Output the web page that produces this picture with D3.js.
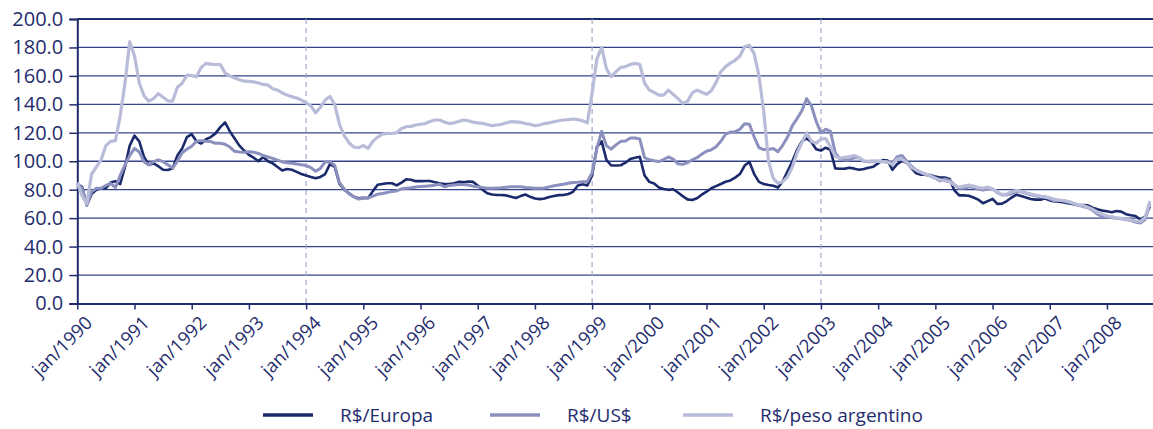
<!DOCTYPE html>
<html>
<head>
<meta charset="utf-8">
<script src="https://cdn.jsdelivr.net/npm/d3@7"></script>
<style>
  html, body { margin: 0; padding: 0; background: #fff; }
  svg { display: block; font-family: "Open Sans", "Noto Sans", sans-serif; }
</style>
</head>
<body>
<svg id="chart" width="1153" height="429"></svg>
<script>
// monthly index values, jan/1990 .. oct/2008
var startYear = 1990;

var europa = [
  84, 82, 69, 77, 80, 81, 81, 85, 86, 84,
  96, 111, 118, 114, 103, 97.5, 98.5, 96.5, 94, 93.8,
  95, 104, 109, 117, 119, 114, 112.5, 115.5, 117, 119.6,
  124, 127.3, 121, 116, 111, 107.5, 104.5, 102.5, 100, 103,
  100, 98.5, 96, 93.5, 94.5, 94, 92.5, 91, 90, 89,
  88, 89, 91, 98, 96, 84, 80, 77.5, 75, 74,
  74.4, 74, 79, 83.5, 84, 84.5, 84.5, 83, 85, 87.3,
  87, 86, 86, 86.1, 86.1, 85.2, 84.5, 84, 84, 84.5,
  85.5, 85.3, 85.8, 85.5, 83, 80, 77.5, 76.6, 76.3, 76.3,
  76, 75.1, 74.2, 75.5, 76.6, 75, 73.8, 73.4, 73.8, 74.8,
  75.5, 76.2, 76.3, 77, 78.5, 83, 83.8, 83, 90, 110,
  114, 101, 97, 97, 97.2, 99, 101.6, 102.5, 103.2, 90,
  85.5, 84.3, 81.5, 80.5, 79.9, 80.3, 78, 75.5, 73.2, 72.7,
  74, 76.5, 78.6, 81, 82.5, 84, 85.6, 86.5, 88.5, 91,
  97, 99.5, 91, 85.5, 84, 83.3, 82.8, 81.5, 86, 93,
  100, 108, 114, 116, 113.5, 108.5, 107.5, 109.5, 108, 95,
  94.7, 94.8, 95.5, 94.8, 94, 94.5, 95.5, 96.2, 98.5, 100.9,
  100.5, 94, 98, 100.2, 99, 95, 91.5, 90.5, 90.5, 90.3,
  89.2, 88.5, 88.5, 87.5, 79.5, 76, 76, 75.8, 74.5, 73,
  70.5, 72, 73.5, 70, 70.2, 72, 74.5, 76.5, 75.5, 74.5,
  73.5, 73, 73, 73.8, 72.5, 71.8, 71.5, 71, 70.4, 69.8,
  69, 69.3, 69, 67.3, 66.2, 65.3, 64.8, 64.1, 65, 64.6,
  62.8, 62, 61.5, 59, 61, 68
];

var usd = [
  84.5, 81, 69.5, 78.5, 81, 81, 83, 84.5, 81.5, 90,
  97.4, 104, 109, 106.5, 99.7, 97.4, 99.7, 101, 99.7, 97.5,
  95.2, 100, 106, 108.5, 110.5, 114, 114.5, 114, 113.8, 112.6,
  112.6, 112, 110, 107, 106.5, 106.4, 106.6, 106.3, 105.5, 104,
  103, 102, 100.8, 99.5, 99, 98.6, 98, 97.5, 97, 95.5,
  93, 95, 99.5, 99.7, 97, 85, 80.5, 77, 75, 73.4,
  74, 74.3, 75.5, 76.8, 77.4, 78, 78.8, 79.1, 80.5, 81,
  81.4, 81.9, 82.2, 82.5, 82.8, 83.2, 83.8, 82.1, 83, 83.3,
  83.6, 83.6, 83.3, 82.5, 82.1, 81.5, 81, 81, 81.2, 81.4,
  81.8, 82.1, 82.1, 82, 81.5, 81.3, 81, 81, 81.2, 82,
  82.8, 83.3, 83.8, 84.5, 85, 85.2, 85.6, 85.6, 92, 109,
  121, 111, 108.5, 111.5, 114, 114.2, 116.3, 116.3, 115.6, 102.5,
  101, 100.3, 99.8, 101.2, 103, 101.5, 98.2, 97.8, 99, 101,
  102.5, 105, 107, 108, 110.2, 114, 119, 120.5, 120.8, 122.5,
  126.3, 126, 117, 109.5, 108.2, 108.3, 109, 106.7, 111.4, 117,
  125, 130, 135.5, 144, 139, 128, 120, 122.5, 121, 106,
  101.5, 100.9, 100.9, 102.5, 102.5, 100, 99.7, 99.7, 100.1, 99.8,
  99.2, 98.7, 103.2, 104, 100, 96.5, 93.8, 92, 90.5, 89.5,
  88, 86.2, 87.5, 86.5, 83.5, 81, 81, 82, 81.5, 80.5,
  79.8, 80.5, 80.5, 78, 76.3, 76.5, 77.2, 78.8, 78.5, 77.4,
  76.5, 75.8, 75.1, 75.1, 73.5, 72, 72.5, 72, 71, 70.2,
  69.2, 68.1, 67.3, 65.5, 62.8, 61.2, 60.8, 60.4, 60, 59.6,
  59, 58.3, 57.2, 56.6, 59, 70
];

var pesoArg = [
  85, 76, 70, 91, 96, 101, 111, 114, 114.5, 132,
  155, 184, 174, 155, 146, 142.3, 144, 147.5, 145, 142.5,
  142.3, 152, 154.8, 160.5, 160.2, 159.5, 166, 168.8, 168.3, 168,
  168, 162, 160, 158.5, 157.3, 156.3, 156.2, 155.8, 155, 154,
  153.6, 151, 150, 148, 146.5, 145.4, 144.5, 143, 141, 139,
  134, 138, 143, 145.5, 140, 126, 118, 113, 110, 109.5,
  111, 109, 114, 117, 119, 119.6, 119.5, 120, 123, 124.3,
  124.5, 125.5, 126, 126.5, 128, 129, 129, 127.5, 126.5, 127,
  128, 129, 128.5, 127.5, 127, 126.6, 125.8, 125, 125.5, 126,
  127, 127.8, 127.7, 127.3, 126.5, 126, 125, 125.5, 126.5, 127,
  127.8, 128.5, 129, 129.3, 129.7, 129.3, 128.5, 127, 148, 172,
  180, 165, 159.5, 163, 166, 166.5, 168, 168.8, 168, 155,
  150, 148.4, 146.5, 146.5, 150, 147, 144, 140.7, 142, 148,
  150, 148.5, 147, 149.5, 155.5, 163, 166.5, 169, 171, 174,
  180.5, 181.5, 175.5, 160, 135, 100, 88, 84.5, 85.6, 89,
  96, 106, 113, 120, 114, 112.6, 115.5, 116, 110, 103.5,
  102.2, 102.7, 103.2, 104, 102.5, 100.3, 100, 100.2, 99.9, 99.7,
  99.5, 97.6, 101.5, 101.5, 99, 95.5, 93.7, 92.3, 91, 89.8,
  88, 87, 86.1, 85.6, 83.2, 81.8, 82.5, 83.2, 82.5, 81.5,
  81, 81.8, 80.6, 78.5, 76.5, 77, 78.5, 79.5, 78.8, 77.8,
  77, 76.2, 75.5, 74.8, 74.4, 73.2, 72.7, 72.3, 71.7, 70.5,
  69.3, 68.8, 67.7, 66.2, 64.2, 62.8, 61.5, 61, 60.3, 59.9,
  59.2, 58.6, 58, 57.7, 60.5, 72
];

var seriesNames = ["R$/Europa", "R$/US$", "R$/peso argentino"];
var yTicks = [0, 20, 40, 60, 80, 100, 120, 140, 160, 180, 200];
var xTickYears = d3.range(1990, 2009);
var markYears = [1994, 1999, 2003];

(function() {
  var W = 1153, H = 429;
  var navy = "#1f2d6e";
  var colors = ["#1b2a6b", "#8b90bf", "#b9bcd9"];

  var svg = d3.select("#chart");

  var plotLeft = 77.3, plotRight = 1153, plotTop = 19, plotBottom = 303.5;
  var x = d3.scaleLinear().domain([0, 225.66]).range([plotLeft, plotRight]);
  var y = d3.scaleLinear().domain([0, 200]).range([plotBottom, plotTop]);

  // gridlines
  svg.append("g").selectAll("line")
    .data(yTicks.filter(function(d) { return d > 0 && d < 200; }))
    .enter().append("line")
    .attr("x1", plotLeft).attr("x2", W)
    .attr("y1", function(d) { return y(d); })
    .attr("y2", function(d) { return y(d); })
    .attr("stroke", "#34448a")
    .attr("stroke-width", 1.3);

  // top border
  svg.append("line")
    .attr("x1", plotLeft).attr("x2", W)
    .attr("y1", y(200)).attr("y2", y(200))
    .attr("stroke", navy).attr("stroke-width", 2);

  // dashed markers
  svg.append("g").selectAll("line")
    .data(markYears)
    .enter().append("line")
    .attr("x1", function(d) { return x((d - startYear) * 12); })
    .attr("x2", function(d) { return x((d - startYear) * 12); })
    .attr("y1", y(200)).attr("y2", y(0))
    .attr("stroke", "#a3a8cc")
    .attr("stroke-width", 1.2)
    .attr("stroke-dasharray", "5,4");

  // y axis
  var yAxis = d3.axisLeft(y)
    .tickValues(yTicks)
    .tickSize(8)
    .tickPadding(6)
    .tickFormat(d3.format(".1f"));

  var gy = svg.append("g")
    .attr("transform", "translate(" + plotLeft + ",0)")
    .call(yAxis);
  gy.select(".domain").attr("stroke", navy).attr("stroke-width", 2);
  gy.selectAll(".tick line").attr("stroke", navy).attr("stroke-width", 1.5);
  gy.selectAll(".tick text")
    .attr("fill", navy)
    .style("font-size", "20px")
    .style("font-family", "'Open Sans', sans-serif");

  // x axis
  var xAxis = d3.axisBottom(x)
    .tickValues(xTickYears.map(function(yr) { return (yr - startYear) * 12; }))
    .tickSize(6)
    .tickSizeOuter(0)
    .tickFormat(function(m) { return "jan/" + (startYear + m / 12); });

  var gx = svg.append("g")
    .attr("transform", "translate(0," + plotBottom + ")")
    .call(xAxis);
  gx.select(".domain").attr("stroke", navy).attr("stroke-width", 2);
  gx.selectAll(".tick line").attr("stroke", navy).attr("stroke-width", 1.5);
  gx.selectAll(".tick text")
    .attr("fill", navy)
    .style("font-size", "18.5px")
    .style("font-family", "'Open Sans', sans-serif")
    .attr("text-anchor", "end")
    .attr("y", 0)
    .attr("dy", "0.35em")
    .attr("transform", "translate(11,16) rotate(-45)");

  // series lines
  var allSeries = [europa, usd, pesoArg];
  var widths = [2.6, 3, 3.2];
  var line = d3.line()
    .x(function(d, i) { return x(i); })
    .y(function(d) { return y(d); });

  svg.append("g").selectAll("path")
    .data(allSeries)
    .enter().append("path")
    .attr("d", line)
    .attr("fill", "none")
    .attr("stroke", function(d, i) { return colors[i]; })
    .attr("stroke-width", function(d, i) { return widths[i]; })
    .attr("stroke-linejoin", "round");

  // legend
  var legX = [263, 490, 683];
  var leg = svg.append("g").selectAll("g")
    .data(seriesNames)
    .enter().append("g")
    .attr("transform", function(d, i) { return "translate(" + legX[i] + ",415)"; });

  leg.append("line")
    .attr("x1", 0).attr("x2", 50)
    .attr("stroke", function(d, i) { return colors[i]; })
    .attr("stroke-width", 3.5);

  leg.append("text")
    .attr("x", 77)
    .attr("dy", "0.35em")
    .attr("fill", navy)
    .style("font-size", "19px")
    .text(function(d) { return d; });
})();
</script>
</body>
</html>
